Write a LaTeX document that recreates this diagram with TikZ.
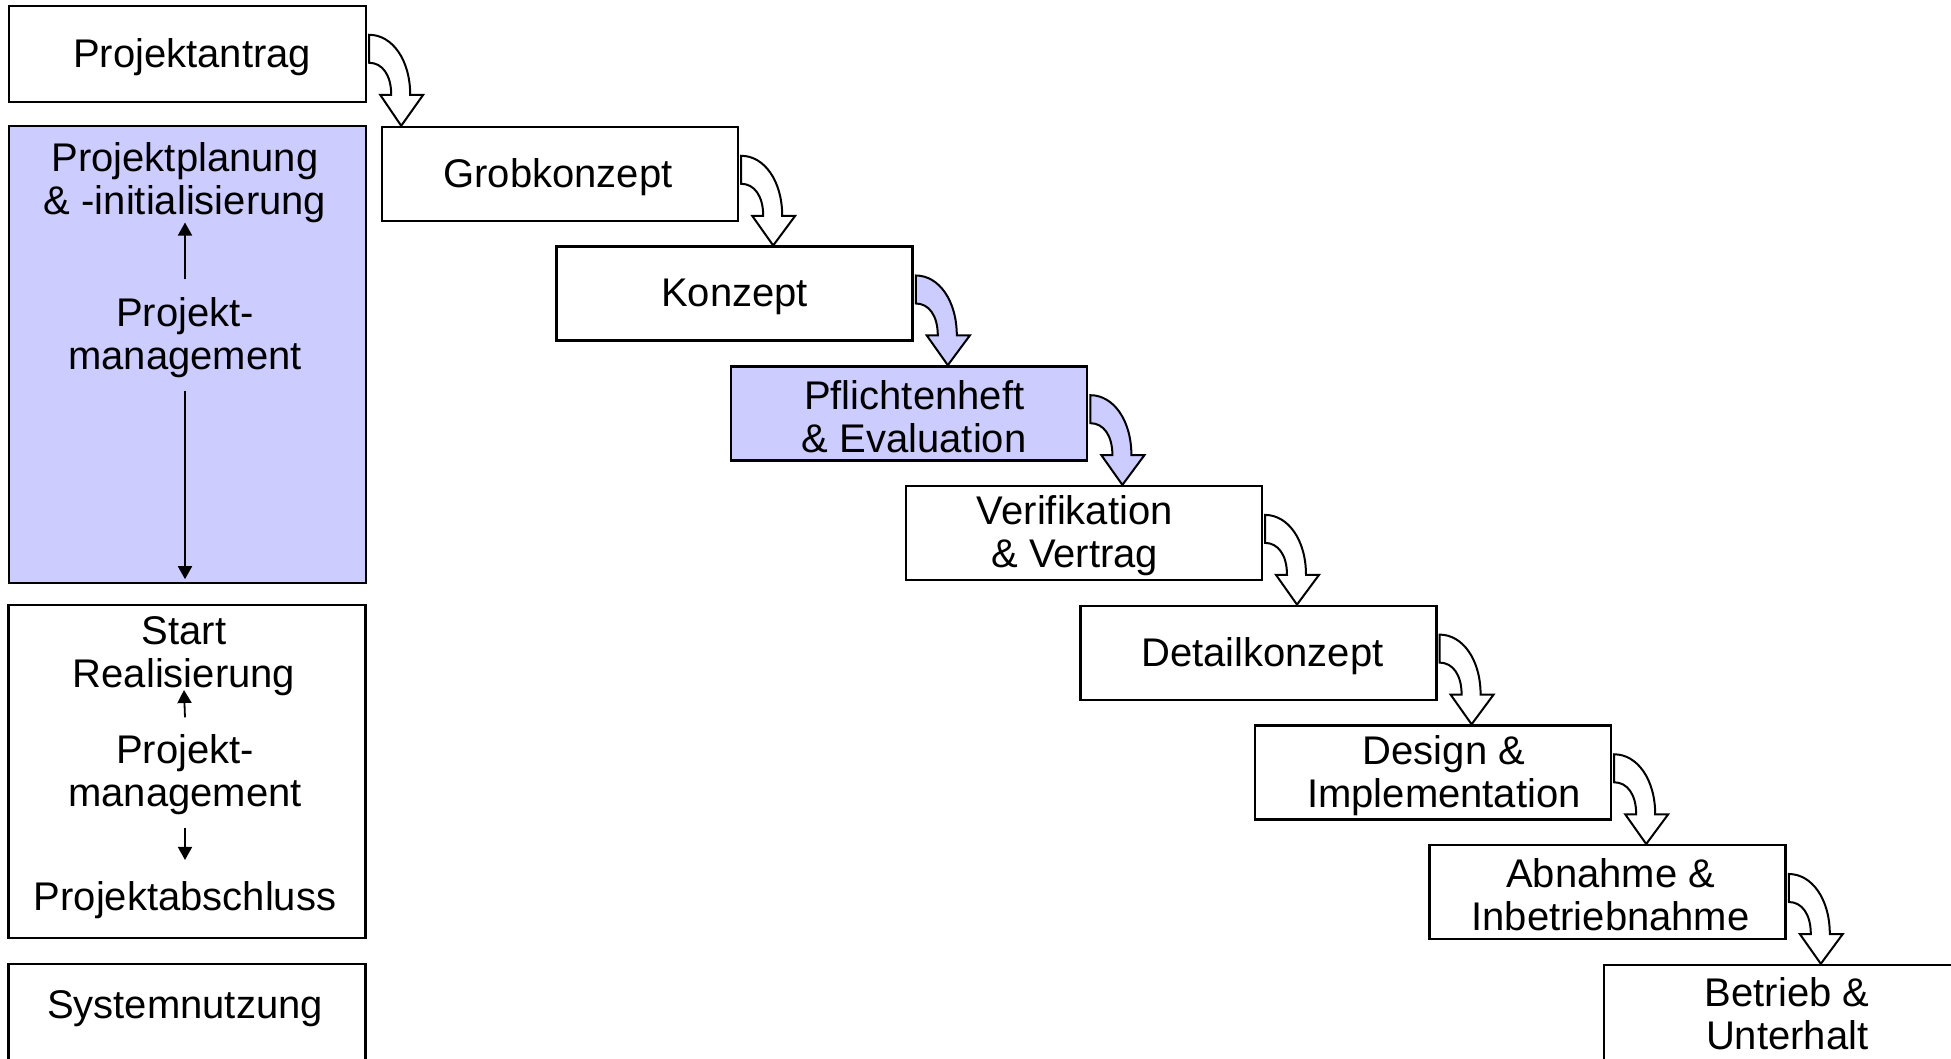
\documentclass[tikz,border=0pt]{standalone}
\usepackage{fontspec}
\setmainfont{Liberation Sans}
\usetikzlibrary{calc,arrows.meta}
\definecolor{lblue}{RGB}{204,204,255}
\newcommand\bendarrow[3]{%
  \coordinate (o) at (#1.north east);
  \coordinate (ox) at ($(o)+(34,0)$);
  \coordinate (t) at (ox |- #2.north);
  \draw[curvearrowstyle, fill=#3]
    ($(o)+(2,30)$) .. controls ($(o)+(25,30)$) and ($(o)+(43,55)$) .. ($(o)+(43,90)$)
    -- ($(o)+(56,90)$) -- (t) -- ($(o)+(13,90)$) -- ($(o)+(24,90)$)
    .. controls ($(o)+(24,70)$) and ($(o)+(15,58)$) .. ($(o)+(2,58)$) -- cycle;}
\begin{document}
\begin{tikzpicture}[x=0.5pt,y=-0.5pt,
  font=\fontsize{20pt}{21.5pt}\selectfont,
  stairbox/.style={draw, line width=1.2pt, minimum width=178pt, minimum height=47pt, inner sep=0pt},
  colbox/.style={draw, line width=1.2pt, minimum width=178.5pt, inner sep=0pt},
  txt/.style={inner sep=0pt, align=center},
  pmarrow/.style={line width=0.9pt, -{Triangle[length=6.5pt,width=7pt]}},
  curvearrowstyle/.style={draw=black, line width=1pt, line join=miter}]
\useasboundingbox (0,0) rectangle (1951,1059);
\clip (0,0) rectangle (1951,1059);
\fill[white] (0,0) rectangle (1951,1059);

% left column
\node[colbox, minimum height=48pt] (antrag) at (187.5,54) {};
\node[txt] (antragt) at (192,57) {Projektantrag};
\node[colbox, fill=lblue, minimum height=228.5pt] (plan) at (187.5,354.5) {};
\node[txt] (plantxt) at (185,183) {Projektplanung\\\& -initialisierung};
\node[txt] (pm1) at (185,338) {Projekt-\\management};
\draw[pmarrow] ([yshift=9pt]pm1.north) -- ([yshift=0.5pt]plantxt.south);
\coordinate (pmend) at ($(pm1.south |- plan.south)+(0,-5)$);
\draw[pmarrow] ([yshift=-6pt]pm1.south) -- (pmend);

\node[colbox, minimum height=166.5pt] (real) at (187,771.5) {};
\node[txt] (start) at (184,656) {Start\\Realisierung};
\node[txt] (pm2) at (185,775) {Projekt-\\management};
\node[txt] (absch) at (185,900) {Projektabschluss};
\draw[pmarrow] ([yshift=8.5pt]pm2.north) -- ([yshift=3pt]start.south);
\draw[pmarrow] ([yshift=-6pt]pm2.south) -- ([yshift=10.5pt]absch.north);

\node[colbox, minimum height=56pt, anchor=north] (sys) at (187,963) {};
\node[txt] (systxt) at (185,1009) {Systemnutzung};

% staircase boxes
\node[stairbox] (s0) at (560,174) {};
\node[stairbox] (s1) at (734.6,293.7) {};
\node[stairbox, fill=lblue] (s2) at (909.2,413.4) {};
\node[stairbox] (s3) at (1083.8,533.1) {};
\node[stairbox] (s4) at (1258.4,652.8) {};
\node[stairbox] (s5) at (1433,772.5) {};
\node[stairbox] (s6) at (1607.6,892.2) {};
\node[stairbox, minimum height=50pt] (s7) at (1782.2,1015) {};

% staircase texts
\node[txt] (s0t) at ([shift={(-2,3)}]s0.center) {Grobkonzept};
\node[txt] (s1t) at ([shift={(0,3)}]s1.center) {Konzept};
\node[txt] (s2t) at ([shift={(5,3)}]s2.center) {Pflichtenheft\\\& Evaluation};
\node[txt] (s3t) at ([shift={(-9,3)}]s3.center) {Verifikation\\\& Vertrag};
\node[txt] (s4t) at ([shift={(4,3)}]s4.center) {Detailkonzept};
\node[txt] (s5t) at ([shift={(11,3)}]s5.center) {Design \&\\Implementation};
\node[txt] (s6t) at ([shift={(3,3)}]s6.center) {Abnahme \&\\Inbetriebnahme};
\node[txt] (s7t) at ([shift={(5,-1)}]s7.center) {Betrieb \&\\Unterhalt};

% curved arrows
\bendarrow{antrag}{s0}{white}
\bendarrow{s0}{s1}{white}
\bendarrow{s1}{s2}{lblue}
\bendarrow{s2}{s3}{lblue}
\bendarrow{s3}{s4}{white}
\bendarrow{s4}{s5}{white}
\bendarrow{s5}{s6}{white}
\bendarrow{s6}{s7}{white}
\end{tikzpicture}
\end{document}
